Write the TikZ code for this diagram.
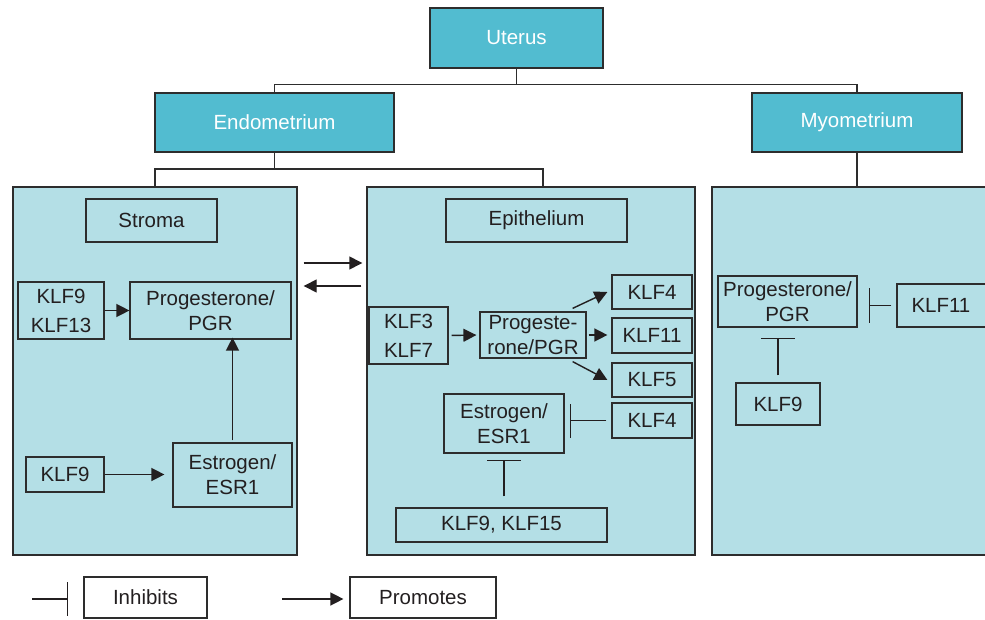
\documentclass[tikz,border=0pt]{standalone}
\usepackage{fontspec}
\setmainfont{Liberation Sans}
\usetikzlibrary{arrows.meta}
\definecolor{teal}{RGB}{82,188,208}
\definecolor{pale}{RGB}{180,223,230}
\definecolor{edge}{RGB}{45,45,45}
\definecolor{ink}{RGB}{35,31,32}
\tikzset{
  head/.style={draw=edge, line width=1.5pt, fill=teal, text=white, inner sep=0pt, align=center, font=\fontsize{20.5}{25}\selectfont},
  panel/.style={draw=edge, line width=1.4pt, fill=pale, inner sep=0pt},
  inbox/.style={draw=edge, line width=1.2pt, fill=pale, text=ink, inner sep=0pt, align=center, font=\fontsize{20.5}{25}\selectfont},
  inbox2/.style={inbox, font=\fontsize{20.5}{29}\selectfont},
  legbox/.style={inbox, fill=white},
  conn/.style={draw=edge, line width=1.5pt},
  arr/.style={draw=ink, line width=1.4pt, -{Triangle[length=13pt,width=13pt]}},
  inh/.style={draw=ink, line width=1.4pt, -{Bar[width=34pt,line width=1.5pt]}},
}
\begin{document}
\begin{tikzpicture}[x=1pt,y=-1pt]
\clip (0,0) rectangle (985,620);
\fill[white] (0,0) rectangle (985,620);
% top level
\node[head, minimum width=173pt, minimum height=60pt] (uterus) at (516.5,38) {Uterus};
\node[head, minimum width=239pt, minimum height=59pt] (endo) at (274.5,122.5) {Endometrium};
\node[head, minimum width=210pt, minimum height=59pt] (myo) at (857,122.5) {Myometrium};
% panels
\node[panel, minimum width=284pt, minimum height=368pt] (stromaP) at (155,371) {};
\node[panel, minimum width=328pt, minimum height=368pt] (epiP) at (531,371) {};
\node[panel, minimum width=288pt, minimum height=368pt] (myoP) at (856,371) {};
% tree connectors
\draw[conn] (uterus.south) -- ++(0,16) -| (endo.north);
\draw[conn] (uterus.south) -- ++(0,16) -| (myo.north);
\draw[conn] (endo.south) -- ++(0,16.5) -| (stromaP.north);
\draw[conn] (endo.south) -- ++(0,16.5) -| ([xshift=12pt]epiP.north);
\draw[conn] (myo.south) -- (myo.south |- myoP.north);
% stroma
\node[inbox, minimum width=131pt, minimum height=43pt] (stroma) at (151.5,220.5) {Stroma};
\node[inbox2, minimum width=86pt, minimum height=57pt] (sk1) at (61,310.5) {KLF9\\KLF13};
\node[inbox, minimum width=161pt, minimum height=57pt] (spgr) at (210.5,310.5) {Progesterone/\\PGR};
\node[inbox, minimum width=78pt, minimum height=35pt] (sk2) at (65,474.5) {KLF9};
\node[inbox, minimum width=119pt, minimum height=64pt] (sesr) at (232.5,475) {Estrogen/\\ESR1};
\draw[arr] (sk1.east) -- (spgr.west);
\draw[arr, shorten >=8pt] (sk2.east) -- (sk2.east -| sesr.west);
\draw[arr, shorten <=2pt, shorten >=-2pt] (sesr.north) -- (sesr.north |- spgr.south);
% cross arrows
\coordinate (xr) at (0,263);
\coordinate (xl) at (0,286);
\draw[arr, shorten <=6pt, shorten >=4pt] (stromaP.east |- xr) -- (epiP.west |- xr);
\draw[arr, shorten <=5pt, shorten >=6pt] (epiP.west |- xl) -- (stromaP.east |- xl);
% epithelium
\node[inbox, minimum width=181pt, minimum height=43pt] (elabel) at (536.5,220.5) {Epithelium};
\node[inbox2, minimum width=79pt, minimum height=57pt] (ek37) at (408.5,335.5) {KLF3\\KLF7};
\node[inbox, minimum width=106pt, minimum height=46pt] (epgr) at (533,335) {Progeste-\\rone/PGR};
\node[inbox, minimum width=80pt, minimum height=34pt] (ek4a) at (652,292) {KLF4};
\node[inbox, minimum width=80pt, minimum height=35pt] (ek11) at (652,335.5) {KLF11};
\node[inbox, minimum width=80pt, minimum height=34pt] (ek5) at (652,380) {KLF5};
\node[inbox, minimum width=120pt, minimum height=59pt] (eesr) at (504,423.5) {Estrogen/\\ESR1};
\node[inbox, minimum width=80pt, minimum height=35pt] (ek4b) at (652,420.5) {KLF4};
\node[inbox, minimum width=211pt, minimum height=34pt] (ek915) at (501.5,525) {KLF9, KLF15};
\draw[arr, shorten <=3pt, shorten >=3pt] (ek37.east) -- (epgr.west);
\draw[arr] ([xshift=-14pt,yshift=3pt]epgr.north east) -- ([xshift=-4pt]ek4a.west);
\draw[arr, shorten <=2pt, shorten >=4pt] (epgr.east) -- (epgr.east -| ek11.west);
\draw[arr] ([xshift=-14pt,yshift=-3pt]epgr.south east) -- ([xshift=-4pt]ek5.west);
\draw[inh, shorten <=5pt, shorten >=5pt] (ek4b.west) -- (ek4b.west -| eesr.east);
\draw[inh, shorten <=11pt, shorten >=6pt] (eesr.south |- ek915.north) -- (eesr.south);
% myometrium
\node[inbox, minimum width=139pt, minimum height=51pt] (mpgr) at (787.5,301.5) {Progesterone/\\PGR};
\node[inbox, minimum width=103pt, minimum height=43pt, text width=88pt, align=left] (mk11) at (948.5,305.5) {\hspace*{7pt}KLF11};
\node[inbox, minimum width=84pt, minimum height=42pt] (mk9) at (778,404) {KLF9};
\draw[inh, shorten <=5pt, shorten >=11pt] (mk11.west) -- (mk11.west -| mpgr.east);
\draw[inh, shorten <=7pt, shorten >=10pt] (mk9.north) -- (mk9.north |- mpgr.south);
% legend
\node[legbox, minimum width=123pt, minimum height=41pt] (linh) at (145.5,597.5) {Inhibits};
\node[legbox, minimum width=146pt, minimum height=41pt] (lpro) at (423,597.5) {Promotes};
\coordinate (li) at (32,599);
\coordinate (lp) at (282,599);
\draw[inh, shorten >=15pt] (li) -- (li -| linh.west);
\draw[arr, shorten >=6pt] (lp) -- (lp -| lpro.west);
\end{tikzpicture}
\end{document}
